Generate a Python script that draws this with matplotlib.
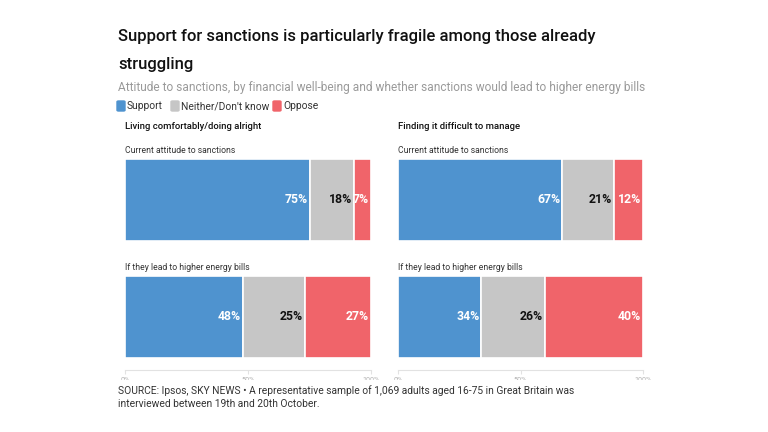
import numpy as np
import matplotlib
import matplotlib.pyplot as plt
from matplotlib.patches import Rectangle, FancyBboxPatch

matplotlib.rcParams.update({'font.family': ['Roboto', 'DejaVu Sans']})

# ----- data -----
groups     = ['Living comfortably/doing alright', 'Finding it difficult to manage']
rows       = ['Current attitude to sanctions', 'If they lead to higher energy bills']
responses  = ['Support', 'Neither/Don\'t know', 'Oppose']
comfortable = [[75, 18, 7], [48, 25, 27]]
difficult   = [[67, 21, 12], [34, 26, 40]]
tick_vals   = [0, 50, 100]
tick_labels = ['0%', '50%', '100%']

colors      = ['#4f93cf', '#c6c6c6', '#f0646a']
text_colors = ['white', '#111111', 'white']

W, H = 768, 432
fig = plt.figure(figsize=(W/100, H/100), dpi=100)

def fx(px): return px / W
def fy(py): return 1 - py / H

# ----- header -----
fig.text(fx(118), fy(36), 'Support for sanctions is particularly fragile among those already',
         fontsize=12.0, fontweight=500, color='#111111', va='center', ha='left')
fig.text(fx(118), fy(64), 'struggling',
         fontsize=12.0, fontweight=500, color='#111111', va='center', ha='left')
fig.text(fx(118), fy(88), 'Attitude to sanctions, by financial well-being and whether sanctions would lead to higher energy bills',
         fontsize=8.6, color='#9a9a9a', va='center', ha='left')

# legend
lx = [117, 171, 273]
for x0, lab, c in zip(lx, responses, colors):
    fig.patches.append(FancyBboxPatch((fx(x0), fy(111)), fx(8), 10/H,
                                      boxstyle='round,pad=0,rounding_size=0.002',
                                      color=c, transform=fig.transFigure, figure=fig))
    fig.text(fx(x0 + 10), fy(106), lab, fontsize=7.4, color='#333333', va='center', ha='left')

# ----- panels -----
bar_h = 82 / 117
for left_px, width_px, title, data in zip([125, 398], [246, 245], groups,
                                          [comfortable, difficult]):
    ax = fig.add_axes([fx(left_px), fy(370), fx(width_px), (370 - 159) / H])
    fig.text(fx(left_px), fy(127), title, fontsize=6.8, fontweight=500,
             color='#111111', va='center', ha='left')
    for i, (rname, vals) in enumerate(zip(rows, data)):
        start = 0
        for v, c, tc in zip(vals, colors, text_colors):
            ax.barh(i, v, left=start, height=bar_h, color=c, edgecolor='white', linewidth=1.2)
            ax.text(start + v - 0.8, i, f'{v}%', ha='right', va='center',
                    fontsize=8.8, fontweight='bold', color=tc)
            start += v
        ax.text(0, i - bar_h/2 - 0.035, rname, fontsize=6.2, color='#333333',
                ha='left', va='bottom')
    ax.set_xlim(0, 100)
    ax.set_ylim(1 + 53/117, -0.35)
    for s in ['top', 'right', 'left']:
        ax.spines[s].set_visible(False)
    ax.spines['bottom'].set_color('#e2e2e2')
    ax.set_yticks([])
    ax.set_xticks(tick_vals)
    ax.set_xticklabels(tick_labels)
    ax.tick_params(axis='x', colors='#e2e2e2', labelcolor='#b0b0b0',
                   labelsize=5.2, length=3, pad=2)
    ax.patch.set_alpha(0)

# tick labels are cut off in the original
fig.patches.append(Rectangle((0, fy(384)), 1, 4/H, color='white',
                             transform=fig.transFigure, figure=fig, zorder=10))

# ----- footer -----
fig.text(fx(118), fy(391), 'SOURCE: Ipsos, SKY NEWS \u2022 A representative sample of 1,069 adults aged 16-75 in Great Britain was',
         fontsize=7.4, color='#333333', va='center', ha='left')
fig.text(fx(118), fy(404), 'interviewed between 19th and 20th October.',
         fontsize=7.4, color='#333333', va='center', ha='left')

fig.savefig('out.png', dpi=100)
